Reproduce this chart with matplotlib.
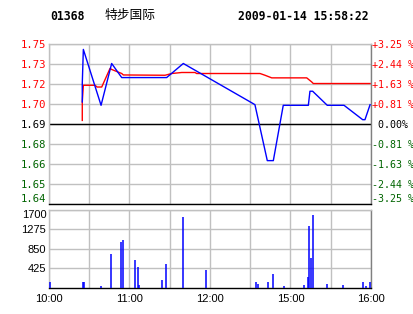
import numpy as np
import matplotlib
matplotlib.use("Agg")
import matplotlib.pyplot as plt

# header
code = "01368"
name = "特步国际"
stamp = "2009-01-14 15:58:22"
prev_close = 1.69

# last price (x = trading minutes since 10:00)
price_min = [24.8, 24.8, 25.6, 38.8, 46.7, 54.2, 87.7, 100.1, 152.3, 153.5, 162.7,
             167.2, 174.6, 193.3, 194.5, 196.5, 207.4, 219.9, 233.8, 235.5, 239.3]
price = [1.7050, 1.7177, 1.7412, 1.7027, 1.7315, 1.7218, 1.7218, 1.7315, 1.7038, 1.7031, 1.6646,
         1.6646, 1.7027, 1.7027, 1.7124, 1.7124, 1.7027, 1.7027, 1.6928, 1.6928, 1.7031]

# average price
avg_min = [24.8, 24.8, 25.6, 34.3, 35.8, 39.3, 45.5, 46.7, 54.2, 55.4, 86.5,
           91.5, 98.9, 108.8, 110.1, 157.3, 161.0, 166.0, 192.1, 195.8, 197.0, 239.3]
avg_price = [1.6923, 1.7050, 1.7165, 1.7165, 1.7153, 1.7153, 1.7281, 1.7274, 1.7246, 1.7236, 1.7234,
             1.7246, 1.7253, 1.7253, 1.7246, 1.7246, 1.7234, 1.7216, 1.7216, 1.7188, 1.7177, 1.7177]

# volume
vol_min = [1, 25, 26, 39, 46, 54, 55, 64, 66, 67, 84, 87, 100, 117, 154, 156, 163,
           167, 175, 190, 193, 194, 195.5, 197, 207, 219, 234, 236, 239]
vol = [130, 130, 130, 45, 738, 1005, 1042, 607, 456, 65, 174, 521, 1541, 391, 130, 87, 130,
       304, 43, 65, 239, 1346, 651, 1584, 87, 65, 130, 43, 130]

price_labels = ["1.64", "1.65", "1.66", "1.68", "1.69", "1.70", "1.72", "1.73", "1.75"]
pct_labels = ["-3.25 %", "-2.44 %", "-1.63 %", "-0.81 %", " 0.00%",
              "+0.81 %", "+1.63 %", "+2.44 %", "+3.25 %"]
vol_ticks = [425, 850, 1275, 1700]
vol_labels = ["425", "850", "1275", "1700"]
time_labels = ["10:00", "", "11:00", "", "12:00", "", "15:00", "", "16:00"]

RED = "#FF0000"
GREEN = "#006400"
GRID = "#C0C0C0"
W, H = 414, 314

fig = plt.figure(figsize=(W / 100, H / 100), dpi=100)
fig.patch.set_facecolor("white")

fig.text(50 / W, 1 - 16 / H, code, family="DejaVu Sans Mono", weight="bold",
         fontsize=8.3, va="center")
fig.text(105 / W, 1 - 15 / H, name, family=["Noto Sans CJK SC", "DejaVu Sans"],
         fontsize=9.2, va="center")
fig.text(238 / W, 1 - 16 / H, stamp, family="DejaVu Sans Mono", weight="bold",
         fontsize=8.3, va="center")


def style_spines(a):
    a.spines["top"].set_color(GRID)
    a.spines["left"].set_color(GRID)
    a.spines["right"].set_color("#808080")
    a.spines["bottom"].set_color("black")
    for s in a.spines.values():
        s.set_linewidth(1.0)


# price panel
steps = np.arange(-4, 5) * 0.008125
ticks = prev_close * (1 + steps)
ax = fig.add_axes([49 / W, 1 - 203.5 / H, 322 / W, 159.5 / H])
ax.set_xlim(0, 240)
ax.set_ylim(ticks[0], ticks[-1])
ax.set_xticks(np.arange(0, 241, 30))
ax.set_xticklabels([])
ax.set_yticks(ticks)
ax.set_yticklabels(price_labels, family="DejaVu Sans Mono", fontsize=7.6)
for lab, s in zip(ax.get_yticklabels(), steps):
    lab.set_color(RED if s > 0 else (GREEN if s < 0 else "black"))
ax.get_yticklabels()[0].set_va("bottom")
ax.tick_params(length=0, pad=2)
ax.grid(color=GRID, lw=1.0)
ax.axhline(prev_close, color="black", lw=1.0, zorder=2)
ax.plot(avg_min, avg_price, color=RED, lw=1.0, zorder=3)
ax.plot(price_min, price, color="#0000FF", lw=1.0, zorder=4)
style_spines(ax)

tw = ax.twinx()
tw.set_ylim(ax.get_ylim())
tw.set_yticks(ticks)
tw.set_yticklabels(pct_labels, family="DejaVu Sans Mono", fontsize=7.2)
for lab, s in zip(tw.get_yticklabels(), steps):
    lab.set_color(RED if s > 0 else (GREEN if s < 0 else "black"))
tw.get_yticklabels()[0].set_va("bottom")
tw.tick_params(length=0, pad=0.5)
for s in tw.spines.values():
    s.set_visible(False)

# volume panel
vax = fig.add_axes([49 / W, 1 - 288 / H, 322 / W, 78.5 / H])
vax.set_xlim(0, 240)
vax.set_ylim(0, 1700)
vax.set_xticks(np.arange(0, 241, 30))
vax.set_xticklabels(time_labels, family="Liberation Sans", fontsize=8)
vax.set_yticks(vol_ticks)
vax.set_yticklabels(vol_labels, family="Liberation Sans", fontsize=8)
vax.get_yticklabels()[-1].set_va("top")
vax.tick_params(length=0, pad=2)
vax.tick_params(axis="x", pad=4)
vax.grid(color=GRID, lw=1.0)
vax.vlines(vol_min, 0, vol, colors="#0000FF", lw=1.1, zorder=3)
style_spines(vax)

fig.savefig("out.png", dpi=100)
